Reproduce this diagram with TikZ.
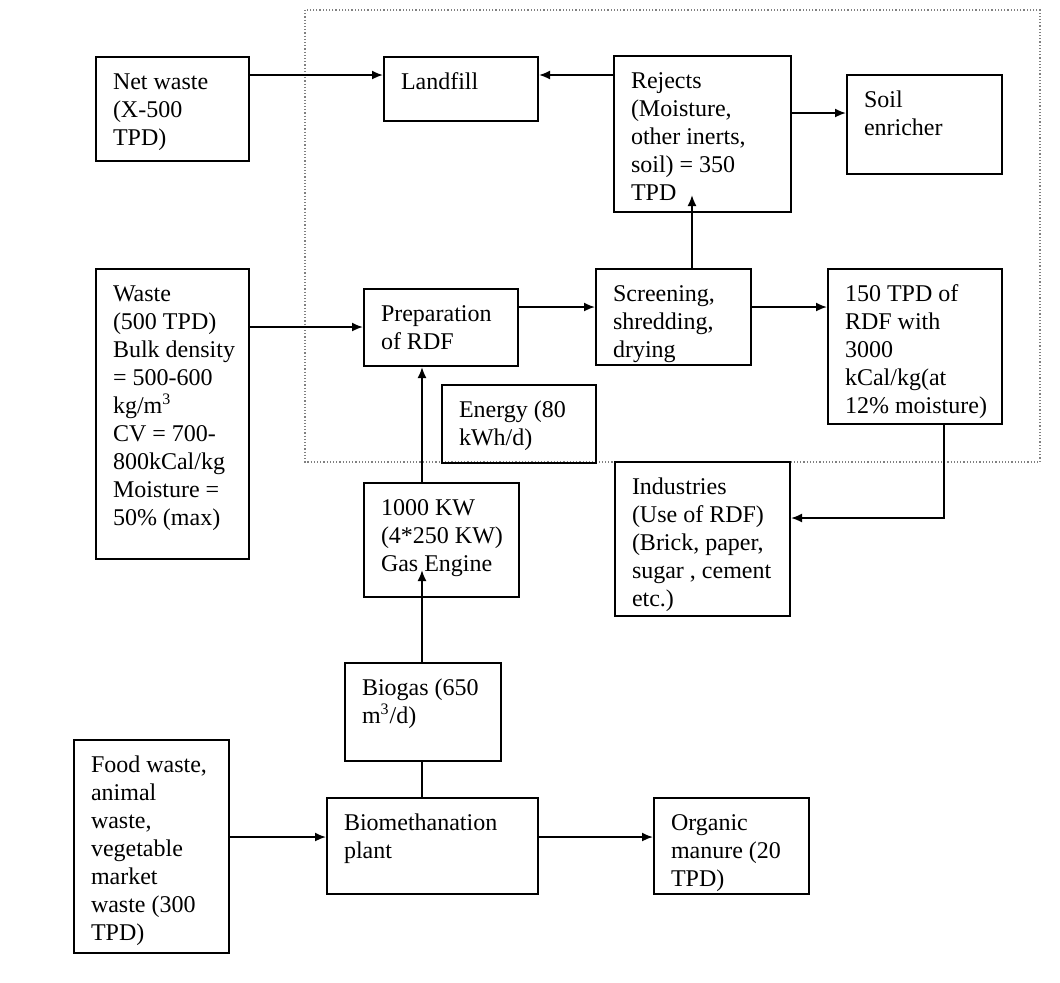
\documentclass[tikz,border=0pt]{standalone}
\usepackage{fontspec}
\setmainfont{Liberation Serif}
\usepackage{tikz}
\usetikzlibrary{arrows.meta}

% box with text set at its top left corner
\newcommand{\blk}[6]{%
  \node [blk] (#1) at (#2,#3) {\parbox[c][\dimexpr #5pt/2-#3pt/2-12.4pt\relax][t]{\dimexpr #4pt/2-#2pt/2-17pt\relax}{\begin{tabular}[t]{@{}l@{}}#6\end{tabular}}};}

\begin{document}
\begin{tikzpicture}[x=0.5pt, y=-0.5pt,
  blk/.style={draw, line width=1pt, anchor=north west, inner xsep=8.5pt, inner ysep=6.2pt, font=\fontsize{12}{14}\selectfont},
  arr/.style={line width=0.9pt, -{Latex[length=5.5pt,width=4.5pt]}},
  plain/.style={line width=0.9pt}]
\useasboundingbox (0,0) rectangle (1060,982);

\draw [densely dotted, gray, line width=0.6pt] (305,10) rectangle (1040,462);

\blk{net}{95}{56}{248}{160}{Net waste\\(X-500\\TPD)}
\blk{land}{383}{56}{537}{120}{Landfill}
\blk{rej}{613}{55}{790}{211}{Rejects\\(Moisture,\\other inerts,\\soil) = 350\\TPD}
\blk{soil}{846}{74}{1001}{173}{Soil\\enricher}

\blk{waste}{95}{268}{248}{558}{Waste\\(500 TPD)\\Bulk density\\= 500-600\\kg/m\textsuperscript{3}\\CV = 700-\\800kCal/kg\\Moisture =\\50\% (max)}
\blk{prep}{363}{288}{517}{365}{Preparation\\of RDF}
\blk{scr}{595}{268}{750}{364}{Screening,\\shredding,\\drying}
\blk{rdf}{827}{268}{1001}{423}{150 TPD of\\RDF with\\3000\\kCal/kg(at\\12\% moisture)}
\blk{nrg}{441}{384}{595}{462}{Energy (80\\kWh/d)}

\blk{eng}{363}{482}{518}{596}{1000 KW\\(4*250 KW)\\Gas Engine}
\blk{ind}{614}{461}{789}{615}{Industries\\(Use of RDF)\\(Brick, paper,\\sugar , cement\\etc.)}
\blk{gas}{344}{662}{500}{760}{Biogas (650\\m\textsuperscript{3}/d)}

\blk{food}{73}{739}{228}{952}{Food waste,\\animal\\waste,\\vegetable\\market\\waste (300\\TPD)}
\blk{biom}{326}{797}{537}{893}{Biomethanation\\plant}
\blk{org}{653}{797}{808}{893}{Organic\\manure (20\\TPD)}

\draw [arr] (net.east |- 0,75) -- (land.west |- 0,75);
\draw [arr] (rej.west |- 0,75) -- (land.east |- 0,75);
\draw [arr] (rej.east |- 0,113) -- (soil.west |- 0,113);
\draw [arr] (scr.north -| 692,0) -- (rej.south -| 692,0) -- ++(0,-18);

\draw [arr] (waste.east |- 0,327) -- (prep.west |- 0,327);
\draw [arr] (prep.east |- 0,307) -- (scr.west |- 0,307);
\draw [arr] (scr.east |- 0,307) -- (rdf.west |- 0,307);
\draw [arr] (eng.north -| 422,0) -- (prep.south -| 422,0);
\draw [arr] (rdf.south -| 944,0) |- (ind.east |- 0,518);

\draw [arr] (gas.north -| 422,0) -- (eng.south -| 422,0) -- ++(0,-28);
\draw [plain] (biom.north -| 422,0) -- (gas.south -| 422,0);
\draw [arr] (food.east |- 0,837) -- (biom.west |- 0,837);
\draw [arr] (biom.east |- 0,837) -- (org.west |- 0,837);
\end{tikzpicture}
\end{document}
